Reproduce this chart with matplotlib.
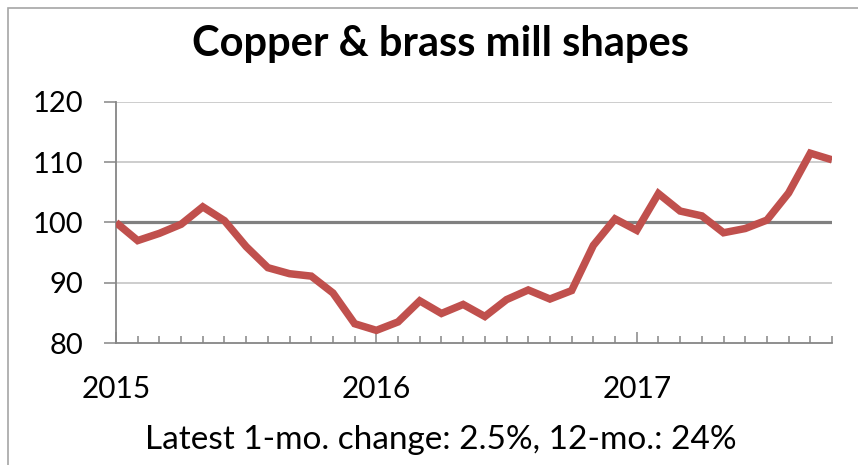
import matplotlib
matplotlib.use("Agg")
import matplotlib.pyplot as plt
from matplotlib.patches import Rectangle
from matplotlib.ticker import FixedLocator, FixedFormatter

title = "Copper & brass mill shapes"
footer = "Latest 1-mo. change: 2.5%, 12-mo.: 24%"
year_labels = ["2015", "2016", "2017"]
year_positions = [0, 12, 24]
values = [100.0, 97.0, 98.2, 99.7, 102.6, 100.3, 96.0, 92.5, 91.5, 91.1,
          88.3, 83.2, 82.1, 83.5, 87.0, 84.9, 86.4, 84.4, 87.2, 88.8,
          87.3, 88.7, 96.2, 100.6, 98.7, 104.8, 101.9, 101.1, 98.3, 99.0,
          100.4, 104.9, 111.5, 110.4]
months = list(range(len(values)))
y_ticks = [80, 90, 100, 110, 120]
baseline = 100

plt.rcParams['font.family'] = ['Lato', 'DejaVu Sans']

W, H = 858, 465
fig = plt.figure(figsize=(W / 100, H / 100), dpi=100)
fig.patch.set_facecolor('white')

# outer border
fig.add_artist(Rectangle((8 / W, -0.1), 1.2, 1 - 8 / H + 0.1, transform=fig.transFigure,
                         fill=False, edgecolor='#a6a6a6', linewidth=1.2))

ax = fig.add_axes([116 / W, 1 - 343 / H, (832 - 116) / W, (343 - 102) / H])

for v in y_ticks:
    if v not in (80, baseline):
        ax.axhline(v, color='#c0c0c0', linewidth=1.1, zorder=1)
ax.axhline(baseline, color='#808080', linewidth=2.3, zorder=2)

ax.plot(months, values, color='#C0504D', linewidth=5.4, solid_joinstyle='miter',
        solid_capstyle='butt', zorder=3)

ax.set_xlim(0, len(values) - 1)
ax.set_ylim(80, 120)
ax.set_yticks(y_ticks)
ax.set_yticklabels([str(v) for v in y_ticks])
ax.xaxis.set_major_locator(FixedLocator(year_positions))
ax.xaxis.set_major_formatter(FixedFormatter(year_labels))
ax.xaxis.set_minor_locator(FixedLocator(months))

for s in ['top', 'right']:
    ax.spines[s].set_visible(False)
for s in ['left', 'bottom']:
    ax.spines[s].set_color('#868686')
    ax.spines[s].set_linewidth(1.3)

ax.tick_params(axis='y', direction='out', length=8.5, width=1.1, color='#868686',
               labelsize=21, pad=15, labelcolor='black')
ax.tick_params(axis='x', which='major', direction='in', length=8, width=1.1,
               color='#868686', labelsize=21.5, pad=23, labelcolor='black')
ax.tick_params(axis='x', which='minor', direction='in', length=5, width=1.1,
               color='#868686')

fig.text(441 / W, 1 - 44 / H, title, ha='center', va='center', fontsize=30,
         fontweight='bold', color='black')
fig.text(441 / W, 1 - 440 / H, footer, ha='center', va='center', fontsize=24,
         color='black')

fig.savefig('out.png', dpi=100, facecolor='white')
